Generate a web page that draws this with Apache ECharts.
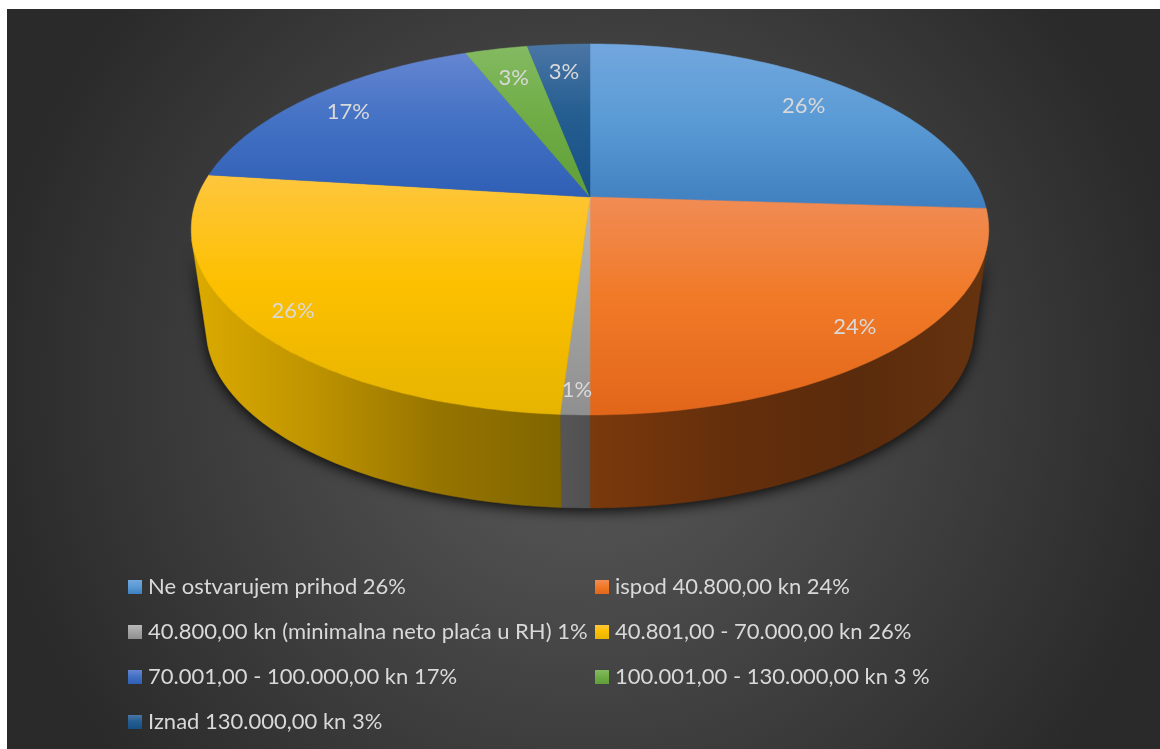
<!DOCTYPE html>
<html>
<head>
<meta charset="utf-8">
<title>Prihod</title>
<style>
  html, body { margin: 0; background: #fff; }
  #chart { position: absolute; left: 7px; top: 9px; width: 1153px; height: 740px; }
</style>
</head>
<body>
<div id="chart"></div>
<script src="https://cdn.jsdelivr.net/npm/echarts@6/dist/echarts.min.js"></script>
<script>
const categories = [
  'Ne ostvarujem prihod 26%',
  'ispod 40.800,00 kn 24%',
  '40.800,00 kn (minimalna neto plaća u RH) 1%',
  '40.801,00 - 70.000,00 kn 26%',
  '70.001,00 - 100.000,00 kn 17%',
  '100.001,00 - 130.000,00 kn 3 %',
  'Iznad 130.000,00 kn 3%'
]
const shares = [26, 24, 1, 26, 17, 3, 3]

// top face colours, light at the far edge to darker at the near edge
const faceColors = [
  ['#72a7de', '#5b9bd5', '#3f7fbf'],
  ['#f08c55', '#f17a28', '#e2661a'],
  ['#b8b8b8', '#a5a5a5', '#8f8f8f'],
  ['#fec63e', '#fdc000', '#e6b400'],
  ['#6586d2', '#4472c4', '#2f5fb5'],
  ['#84ba62', '#70ad47', '#5f9e38'],
  ['#4b76a6', '#255e91', '#174f85']
]
// side wall colours, left to right
const wallColors = [
  ['#2f6ea8', '#2f6ea8'],
  ['#7b390c', '#652f0c', '#5a2b0c', '#66330f'],
  ['#565656', '#505050'],
  ['#dcab00', '#be9300', '#967400', '#806500'],
  ['#2a4f8f', '#2a4f8f'],
  ['#4f7d33', '#4f7d33'],
  ['#1b4569', '#1b4569']
]
const labelRadius = [0.82, 0.875, 0.9, 0.885, 0.85, 0.79, 0.8]
const leftLegend = [0, 2, 4, 6]
const rightLegend = [1, 3, 5]

// perspective of the tilted disc, chart pixels
const APEX_X = 583
const APEX_Y = 188
const RX = 392.6
const RY = 179.8
const TILT = 0.175
const RIM_MID_Y = 220.5
const DEPTH = 100
const SHRINK = 0.9625
const WALL_FROM = 103
const WALL_TO = 257

const FONT = 'Lato, "Open Sans", sans-serif'
const total = shares.reduce((a, b) => a + b, 0)
const startOf = i => shares.slice(0, i).reduce((a, b) => a + b, 0) / total * 360

function project(deg, r) {
  const t = deg * Math.PI / 180
  const den = 1 + TILT * r * Math.cos(t)
  return [APEX_X + RX * r * Math.sin(t) / den, APEX_Y - RY * r * Math.cos(t) / den]
}

function drop(p) {
  return [APEX_X + (p[0] - APEX_X) * SHRINK, RIM_MID_Y + (p[1] - RIM_MID_Y) * SHRINK + DEPTH]
}

function arc(from, to) {
  const pts = []
  const steps = Math.max(2, Math.ceil(Math.abs(to - from)))
  for (let k = 0; k <= steps; k++) pts.push(project(from + (to - from) * k / steps, 1))
  return pts
}

function stops(colors) {
  return colors.map((color, k) => ({ offset: k / (colors.length - 1), color }))
}

function faceGradient(i) {
  const c = faceColors[i]
  return new echarts.graphic.LinearGradient(0, 0, 0, 1, [
    { offset: 0, color: c[0] },
    { offset: 0.45, color: c[1] },
    { offset: 1, color: c[2] }
  ])
}

function renderFace(i, params, api) {
  const value = api.value(0)
  const from = startOf(i)
  const to = from + value / total * 360
  const fill = faceGradient(i)
  const pos = project((from + to) / 2, labelRadius[i])
  return {
    type: 'group',
    children: [
      {
        type: 'polygon',
        shape: { points: [[APEX_X, APEX_Y]].concat(arc(from, to)) },
        style: { fill, stroke: fill, lineWidth: 0.5 }
      },
      {
        type: 'text',
        z2: 10,
        style: {
          x: pos[0], y: pos[1] + 1, text: value + '%', fill: '#d9d9d9',
          font: '22px ' + FONT, align: 'center', verticalAlign: 'middle'
        }
      }
    ]
  }
}

function renderWall(params, api) {
  const i = params.dataIndex
  const start = startOf(i)
  const from = Math.max(start, WALL_FROM)
  const to = Math.min(start + api.value(0) / total * 360, WALL_TO)
  if (to <= from) return null
  const top = arc(from, to)
  const fill = new echarts.graphic.LinearGradient(0, 0, 1, 0, stops(wallColors[i]))
  return {
    type: 'polygon',
    shape: { points: top.concat(top.map(drop).reverse()) },
    style: { fill, stroke: fill, lineWidth: 0.5 }
  }
}

function renderShadow() {
  const top = arc(WALL_FROM, WALL_TO)
  return {
    type: 'polygon',
    shape: { points: top.concat(top.map(drop).reverse()) },
    style: { fill: '#1a1a1a', shadowBlur: 14, shadowColor: 'rgba(0,0,0,0.9)', shadowOffsetY: 3 }
  }
}

const legendBase = {
  orient: 'vertical',
  selectedMode: false,
  icon: 'rect',
  itemWidth: 14,
  itemHeight: 14,
  itemGap: 23,
  top: 567,
  padding: 0,
  textStyle: { color: '#d9d9d9', fontSize: 22, fontFamily: FONT, lineHeight: 20, padding: [0, 0, 0, 1] }
}

function legendData(list) {
  return list.map(i => ({ name: categories[i], itemStyle: { color: faceGradient(i) } }))
}

const chart = echarts.init(document.getElementById('chart'))
chart.setOption({
  animation: false,
  backgroundColor: new echarts.graphic.RadialGradient(580, 375, 600, [
    { offset: 0, color: '#5c5c5c' },
    { offset: 1, color: '#2a2a2a' }
  ], true),
  legend: [
    Object.assign({}, legendBase, { left: 121, data: legendData(leftLegend) }),
    Object.assign({}, legendBase, { left: 588, data: legendData(rightLegend) })
  ],
  series: [
    { type: 'custom', name: 'sjena', coordinateSystem: 'none', silent: true, z: 1, data: [[1]], renderItem: renderShadow },
    { type: 'custom', name: 'rub', coordinateSystem: 'none', silent: true, z: 2, data: shares.map(v => [v]), renderItem: renderWall }
  ].concat(categories.map((name, i) => ({
    type: 'custom',
    name,
    coordinateSystem: 'none',
    silent: true,
    z: 3,
    itemStyle: { color: faceColors[i][1] },
    data: [[shares[i]]],
    renderItem: (params, api) => renderFace(i, params, api)
  })))
})

window.addEventListener('resize', () => chart.resize())
</script>
</body>
</html>
